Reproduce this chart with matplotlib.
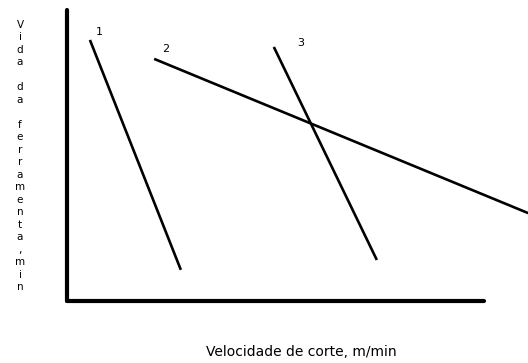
import matplotlib
matplotlib.use('Agg')
import matplotlib.pyplot as plt

# tool life lines (schematic units, 0-100 on both axes)
line_names = ['1', '2', '3']
speed_start = [5.5, 20.9, 49.6]
speed_end = [27.3, 110.6, 74.3]
life_start = [89.7, 83.2, 87.3]
life_end = [10.7, 30.2, 14.1]
label_x = [7.7, 23.7, 56.1]
label_y = [92.4, 86.6, 88.8]

xlabel = 'Velocidade de corte, m/min'
ylabel_letters = ['V', 'i', 'd', 'a', '', 'd', 'a', '', 'f', 'e', 'r', 'r',
                  'a', 'm', 'e', 'n', 't', 'a', ',', 'm', 'i', 'n']

fig = plt.figure(figsize=(5.28, 3.63), dpi=100)
ax = fig.add_axes([67 / 528, 62 / 363, 417 / 528, 291 / 363])
ax.set_xlim(0, 100)
ax.set_ylim(0, 100)

for i in range(len(line_names)):
    ax.plot([speed_start[i], speed_end[i]], [life_start[i], life_end[i]],
            color='black', lw=1.9, clip_on=False, solid_capstyle='butt')
    ax.text(label_x[i], label_y[i], line_names[i], fontsize=8,
            family='DejaVu Sans', ha='center', va='center')

for side in ['top', 'right']:
    ax.spines[side].set_visible(False)
for side in ['left', 'bottom']:
    ax.spines[side].set_linewidth(3)
    ax.spines[side].set_capstyle('round')
ax.set_xticks([])
ax.set_yticks([])

# y label written as stacked letters, one per line
fig.text(20 / 528, 1 - 156 / 363, '\n'.join(ylabel_letters), fontsize=7.5,
         family='DejaVu Sans', ha='center', va='center', linespacing=1.31)
fig.text(301 / 528, 1 - 352 / 363, xlabel, fontsize=10, family='DejaVu Sans',
         ha='center', va='center')

fig.savefig('out.png', dpi=100)
